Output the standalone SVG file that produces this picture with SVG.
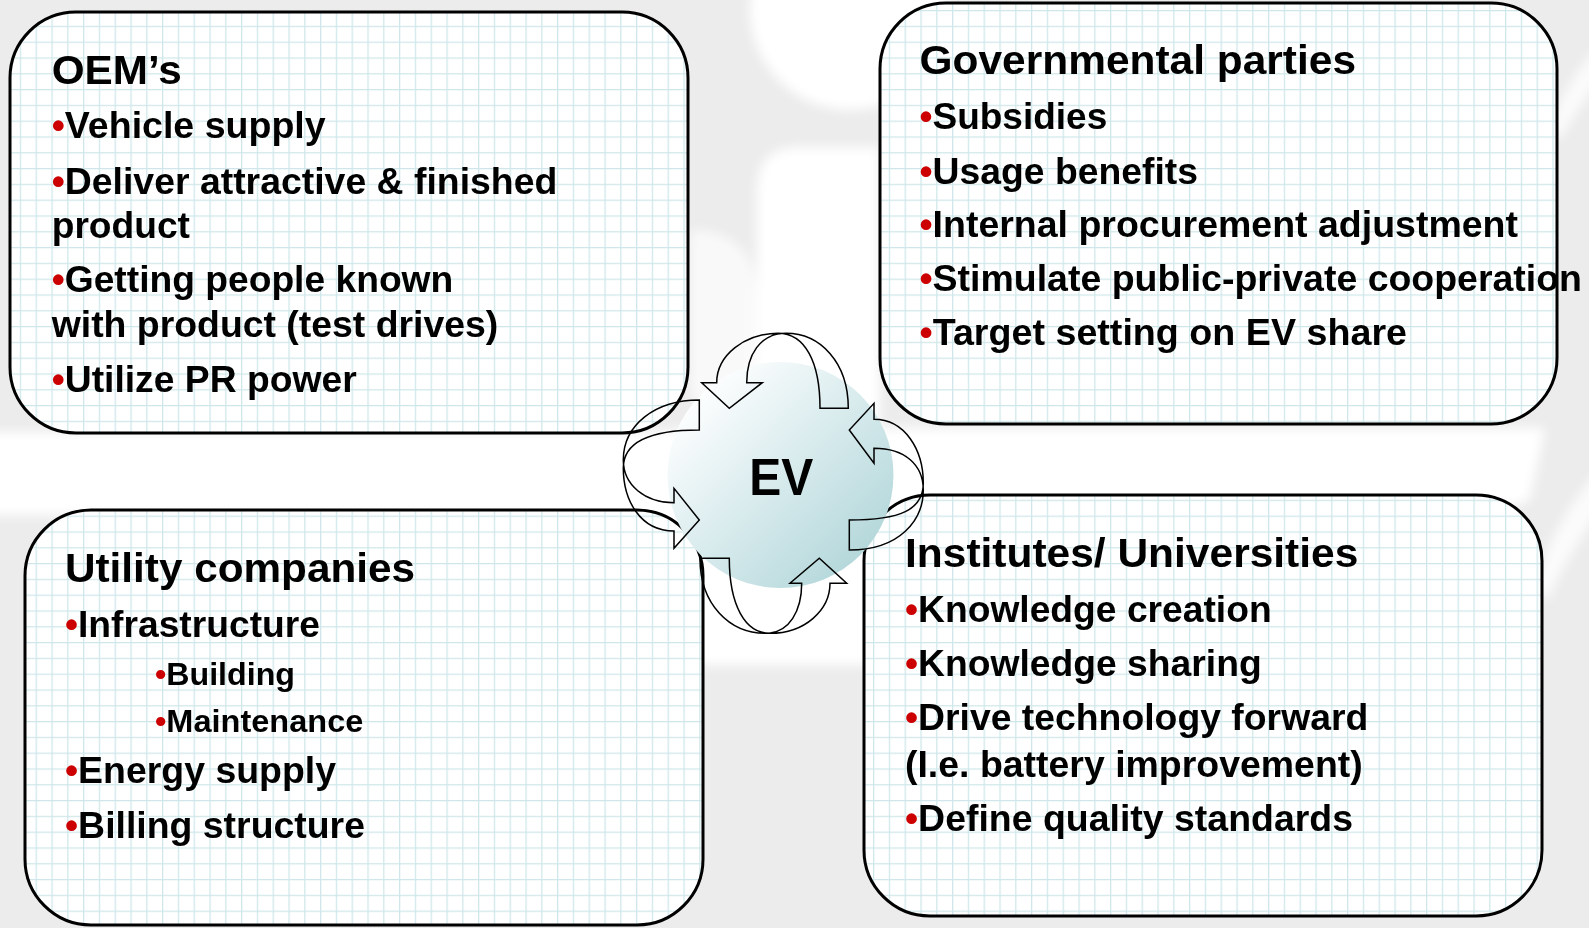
<svg xmlns="http://www.w3.org/2000/svg" width="1589" height="928" viewBox="0 0 1589 928">
  <defs>
    <style>
      .box { fill: url(#grid); stroke: #000; stroke-width: 3; }
      .hd { font-family: "Liberation Sans", Arial, sans-serif; font-weight: bold; font-size: 41px; fill: #000; }
      .it { font-family: "Liberation Sans", Arial, sans-serif; font-weight: bold; font-size: 37px; fill: #000; }
      .sub { font-family: "Liberation Sans", Arial, sans-serif; font-weight: bold; font-size: 32px; fill: #000; }
      .b { fill: #cc0000; }
      .arrow { fill: none; stroke: #000; stroke-width: 1.5; stroke-linejoin: miter; }
    </style>
    <pattern id="grid" width="15.8" height="15.8" patternUnits="userSpaceOnUse" x="4" y="10">
      <rect width="15.8" height="15.8" fill="#ffffff"/>
      <path d="M0 0.6H15.8M0.6 0V15.8" stroke="#cfe7ea" stroke-width="1.3"/>
    </pattern>
    <linearGradient id="evFill" x1="0.12" y1="0.12" x2="0.88" y2="0.88">
      <stop offset="0" stop-color="#ffffff"/>
      <stop offset="0.45" stop-color="#dcedef"/>
      <stop offset="1" stop-color="#b3d7da"/>
    </linearGradient>
    <filter id="soft" x="-10%" y="-10%" width="120%" height="120%">
      <feGaussianBlur stdDeviation="6"/>
    </filter>
  </defs>

  <!-- backdrop: light grey with a soft white swirl -->
  <g id="backdrop">
    <rect width="1589" height="928" fill="#ececec"/>
    <g fill="#ffffff" filter="url(#soft)">
      <path d="M-20 432 H640 C700 432 740 420 757 380 V190 Q757 147 800 147 H880 V428 H1545 L1530 500 C1380 560 1000 600 870 665 H700 C650 600 600 540 520 515 H-20 Z"/>
      <circle cx="850" cy="10" r="100"/>
      <path d="M690 230 C720 230 757 240 757 300 V400 H690 Z" opacity="0.7"/>
      <path d="M1548 130 C1560 100 1575 70 1600 45 V80 C1585 100 1570 120 1560 140 Z" opacity="0.8"/>
      <path d="M1530 590 C1550 540 1570 500 1600 470 V510 C1580 540 1560 570 1548 600 Z" opacity="0.8"/>
    </g>
  </g>

  <g id="oems">
    <rect class="box" x="10" y="12" width="678" height="421" rx="66" ry="66"/>
    <text class="hd" x="51.7" y="84.3" textLength="130" lengthAdjust="spacingAndGlyphs">OEM’s</text>
    <text class="it" x="51.7" y="138.3" textLength="274" lengthAdjust="spacingAndGlyphs"><tspan class="b">•</tspan>Vehicle supply</text>
    <text class="it" x="51.7" y="194" textLength="505.6" lengthAdjust="spacingAndGlyphs"><tspan class="b">•</tspan>Deliver attractive &amp; finished</text>
    <text class="it" x="51.7" y="238.3" textLength="138.3" lengthAdjust="spacingAndGlyphs">product</text>
    <text class="it" x="51.7" y="291.7" textLength="401.6" lengthAdjust="spacingAndGlyphs"><tspan class="b">•</tspan>Getting people known</text>
    <text class="it" x="51.7" y="336.7" textLength="446.6" lengthAdjust="spacingAndGlyphs">with product (test drives)</text>
    <text class="it" x="51.7" y="391.7" textLength="305" lengthAdjust="spacingAndGlyphs"><tspan class="b">•</tspan>Utilize PR power</text>
  </g>

  <g id="governmental">
    <rect class="box" x="880" y="3" width="677" height="421" rx="66" ry="66"/>
    <text class="hd" x="919.5" y="73.8" textLength="436.5" lengthAdjust="spacingAndGlyphs">Governmental parties</text>
    <text class="it" x="919.5" y="128.8" textLength="187.8" lengthAdjust="spacingAndGlyphs"><tspan class="b">•</tspan>Subsidies</text>
    <text class="it" x="919.5" y="184" textLength="278.5" lengthAdjust="spacingAndGlyphs"><tspan class="b">•</tspan>Usage benefits</text>
    <text class="it" x="919.5" y="237" textLength="598.5" lengthAdjust="spacingAndGlyphs"><tspan class="b">•</tspan>Internal procurement adjustment</text>
    <text class="it" x="919.5" y="290.5" textLength="662.5" lengthAdjust="spacingAndGlyphs"><tspan class="b">•</tspan>Stimulate public-private cooperation</text>
    <text class="it" x="919.5" y="345" textLength="487.5" lengthAdjust="spacingAndGlyphs"><tspan class="b">•</tspan>Target setting on EV share</text>
  </g>

  <g id="utility">
    <rect class="box" x="25" y="510" width="678" height="415" rx="66" ry="66"/>
    <text class="hd" x="65" y="581.7" textLength="350" lengthAdjust="spacingAndGlyphs">Utility companies</text>
    <text class="it" x="65" y="636.7" textLength="255" lengthAdjust="spacingAndGlyphs"><tspan class="b">•</tspan>Infrastructure</text>
    <text class="sub" x="155" y="685" textLength="140" lengthAdjust="spacingAndGlyphs"><tspan class="b">•</tspan>Building</text>
    <text class="sub" x="155" y="731.7" textLength="208.3" lengthAdjust="spacingAndGlyphs"><tspan class="b">•</tspan>Maintenance</text>
    <text class="it" x="65" y="783.3" textLength="271" lengthAdjust="spacingAndGlyphs"><tspan class="b">•</tspan>Energy supply</text>
    <text class="it" x="65" y="838.3" textLength="300" lengthAdjust="spacingAndGlyphs"><tspan class="b">•</tspan>Billing structure</text>
  </g>

  <g id="institutes">
    <rect class="box" x="864" y="495" width="678" height="421" rx="66" ry="66"/>
    <text class="hd" x="905" y="566.7" textLength="453.3" lengthAdjust="spacingAndGlyphs">Institutes/ Universities</text>
    <text class="it" x="905" y="621.7" textLength="366.7" lengthAdjust="spacingAndGlyphs"><tspan class="b">•</tspan>Knowledge creation</text>
    <text class="it" x="905" y="676" textLength="356.7" lengthAdjust="spacingAndGlyphs"><tspan class="b">•</tspan>Knowledge sharing</text>
    <text class="it" x="905" y="730" textLength="463.3" lengthAdjust="spacingAndGlyphs"><tspan class="b">•</tspan>Drive technology forward</text>
    <text class="it" x="905" y="776.7" textLength="457.7" lengthAdjust="spacingAndGlyphs">(I.e. battery improvement)</text>
    <text class="it" x="905" y="830.5" textLength="448" lengthAdjust="spacingAndGlyphs"><tspan class="b">•</tspan>Define quality standards</text>
  </g>

  <g id="ev">
    <circle cx="780.5" cy="475" r="113" fill="url(#evFill)"/>
    <text x="749.3" y="495" font-family="Liberation Sans, Arial, sans-serif" font-weight="bold" font-size="52" textLength="64" lengthAdjust="spacingAndGlyphs" fill="#000">EV</text>
  </g>

  <!-- cycle arrows around the centre, each a twisted ribbon -->
  <g id="connectors">
    <path class="arrow" d="M820 408.3 L848.3 408.3 C848.3 362 820 333.3 786 333.3 C760 333.3 746.7 355 746.7 382.7 L762.3 382.7 L729.3 408.3 L701.7 382.7 L716.7 382.7 C716.7 355 745 333.3 778 333.3 C805 333.3 820 362 820 408.3 Z"/>
    <path class="arrow" d="M849.3 520 L849.3 550 C900 550 923.3 520 923.3 490 C923.3 465 905 448.3 874 448.3 L874 463.3 L849.3 430 L874 403.3 L874 419.3 C905 419.3 923.3 450 923.3 483 C923.3 510 900 520 849.3 520 Z"/>
    <path class="arrow" d="M729.3 558.3 L700 558.3 C700 605 730 633.3 765 633.3 C790 633.3 801.7 610 801.7 583.3 L790 583.3 L819.3 558.3 L846.7 583.3 L830 583.3 C830 610 805 633.3 770 633.3 C745 633.3 729.3 605 729.3 558.3 Z"/>
    <path class="arrow" d="M699.3 430 L699.3 400 C655 400 623.3 425 623.3 460 C623.3 485 645 502.7 674 502.7 L674 488.3 L699.3 520 L674 548.3 L674 531 C640 531 623.3 500 623.3 468 C623.3 440 655 430 699.3 430 Z"/>
  </g>
</svg>
